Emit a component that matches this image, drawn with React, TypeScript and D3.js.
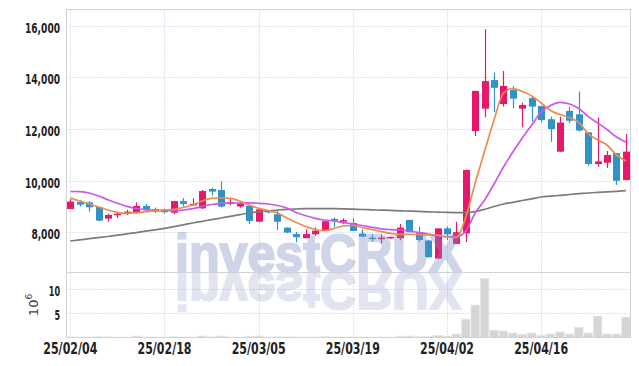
import React, { useEffect, useRef } from "react";
import * as d3 from "d3";

const WIDTH = 639;
const HEIGHT = 366;

const dates = [
  "25/02/04", "25/02/05", "25/02/06", "25/02/07", "25/02/10", "25/02/11", "25/02/12", "25/02/13", "25/02/14", "25/02/17",
  "25/02/18", "25/02/19", "25/02/20", "25/02/21", "25/02/24", "25/02/25", "25/02/26", "25/02/27", "25/02/28", "25/03/04",
  "25/03/05", "25/03/06", "25/03/07", "25/03/10", "25/03/11", "25/03/12", "25/03/13", "25/03/14", "25/03/17", "25/03/18",
  "25/03/19", "25/03/20", "25/03/21", "25/03/24", "25/03/25", "25/03/26", "25/03/27", "25/03/28", "25/03/31", "25/04/01",
  "25/04/02", "25/04/03", "25/04/04", "25/04/07", "25/04/08", "25/04/09", "25/04/10", "25/04/11", "25/04/14", "25/04/15",
  "25/04/16", "25/04/17", "25/04/18", "25/04/21", "25/04/22", "25/04/23", "25/04/24", "25/04/25", "25/04/28", "25/04/29",
];

const opens = [
  8890, 9165, 9150, 8970, 8520, 8650, 8730, 8750, 9010, 8890,
  8860, 8750, 9200, 9050, 8920, 9670, 9630, 9110, 8990, 9020,
  8400, 8820, 8690, 8170, 7920, 7760, 7910, 8050, 8510, 8400,
  8350, 7940, 7780, 7720, 7760, 7760, 8470, 8000, 7670, 6970,
  8140, 7540, 7950, 11920, 12790, 13900, 12970, 13520, 12790, 13200,
  12890, 12380, 11120, 12700, 12570, 11870, 10640, 10690, 11060, 10020,
];
const highs = [
  9280, 9240, 9200, 8980, 8710, 8770, 8860, 9150, 9090, 8950,
  8900, 9210, 9320, 9310, 9630, 9720, 9960, 9310, 9130, 9030,
  8930, 8850, 8820, 8180, 8010, 8100, 8180, 8430, 8570, 8530,
  8530, 8100, 7910, 7910, 7820, 8310, 8470, 8210, 7700, 8150,
  8210, 8400, 10420, 13480, 15870, 14190, 14250, 13670, 13020, 13260,
  12900, 12480, 12480, 12870, 13450, 11880, 12440, 11150, 11060, 11800,
];
const lows = [
  8890, 8990, 8790, 8430, 8400, 8550, 8660, 8710, 8800, 8740,
  8720, 8690, 8990, 9010, 8890, 9410, 8960, 9050, 8950, 8310,
  8400, 8720, 8080, 7950, 7600, 7760, 7850, 8040, 8200, 8310,
  8040, 7800, 7630, 7560, 7740, 7680, 7990, 7630, 7010, 6950,
  7690, 7540, 7610, 11730, 12460, 12650, 12870, 12800, 12070, 12290,
  12250, 11500, 11110, 12220, 11900, 10580, 10540, 10480, 9830, 10000,
];
const closes = [
  9180, 9060, 8960, 8440, 8660, 8710, 8790, 9010, 8880, 8790,
  8770, 9200, 9090, 9090, 9590, 9570, 8990, 9150, 9110, 8430,
  8880, 8770, 8400, 7980, 7800, 7920, 8050, 8420, 8440, 8460,
  8040, 7820, 7740, 7780, 7810, 8170, 7990, 7690, 7020, 8140,
  7910, 7990, 10410, 13480, 13860, 13600, 13670, 13180, 12930, 12870,
  12350, 12000, 12250, 12320, 11940, 10640, 10740, 10990, 9990, 11120,
];

// moving averages
const maShort = [
  9320, 9204, 9087, 8971, 8854, 8765, 8726, 8750, 8788, 8827,
  8854, 8882, 8951, 9049, 9204, 9309, 9320, 9309, 9204, 9049,
  8920, 8835, 8738, 8544, 8369, 8214, 8097, 8050, 8136, 8233,
  8252, 8175, 8097, 8019, 7950, 7911, 7911, 7903, 7884, 7884,
  7806, 7786, 8583, 9903, 11146, 12350, 13398, 13573, 13456, 13282,
  13010, 12718, 12563, 12447, 12252, 11825, 11573, 11379, 10990, 10757,
];
const maMid = [
  9573, 9565, 9515, 9398, 9250, 9115, 8998, 8913, 8866, 8835,
  8827, 8827, 8854, 8905, 8990, 9068, 9115, 9126, 9126, 9130,
  9115, 9087, 9029, 8932, 8757, 8629, 8532, 8466, 8427, 8361,
  8311, 8252, 8183, 8124, 8089, 8078, 8039, 7981, 7922, 7845,
  7817, 7817, 8039, 8738, 9243, 9864, 10524, 11107, 11650, 12155,
  12660, 12913, 13037, 12971, 12796, 12478, 12233, 11981, 11689, 11495,
];
const maLong = [
  7650, 7697, 7740, 7783, 7825, 7876, 7926, 7977, 8031, 8085,
  8144, 8210, 8280, 8350, 8416, 8482, 8544, 8610, 8676, 8738,
  8784, 8823, 8854, 8878, 8893, 8905, 8909, 8909, 8905, 8897,
  8885, 8874, 8862, 8850, 8839, 8823, 8812, 8800, 8784, 8773,
  8761, 8753, 8750, 8796, 8885, 8990, 9087, 9153, 9223, 9289,
  9359, 9390, 9425, 9456, 9487, 9514, 9538, 9561, 9580, 9604,
];

// volume in millions
const volumes = [
  0.1, 0.08, 0.08, 0.15, 0.1, 0.05, 0.05, 0.3, 0.1, 0.08,
  0.08, 0.15, 0.08, 0.06, 0.3, 0.1, 0.3, 0.08, 0.06, 0.25,
  0.3, 0.08, 0.15, 0.12, 0.1, 0.06, 0.06, 0.15, 0.1, 0.06,
  0.1, 0.08, 0.06, 0.08, 0.05, 0.25, 0.3, 0.15, 0.2, 0.45,
  0.3, 0.7, 3.8, 6.7, 12.2, 1.5, 1.35, 0.93, 0.66, 0.93,
  0.45, 0.72, 1.14, 0.72, 2.1, 0.93, 4.4, 0.72, 0.72, 4.2,
];

const priceTicks = [8000, 10000, 12000, 14000, 16000];
const volumeTicks = [5, 10];
const dateTicks = ["25/02/04", "25/02/18", "25/03/05", "25/03/19", "25/04/02", "25/04/16"];

const UP = "#e5186c";
const DOWN = "#2f93c8";
const GRID = "#c2c5da";
const FRAME = "#d2d2d6";
const LABEL_FONT = "'DejaVu Sans Condensed', 'DejaVu Sans', sans-serif";
const MARK = "rgb(125,140,194)";

// width of a narrow-font label, so the labels keep the reference's width
const labelWidth = (s: string, digit: number) =>
  s.split("").reduce((w, ch) => w + (ch === "," ? 3 : ch === "/" ? 6 : digit), 0);

function App() {
  const svgRef = useRef<SVGSVGElement>(null);

  useEffect(() => {
    const svg = d3.select(svgRef.current);
    svg.selectAll("*").remove();

    const left = 66.5;
    const right = 630.5;
    const top = 9.5;
    const mainBottom = 272;
    const volBottom = 337.5;

    const x = d3.scaleBand().domain(dates).range([65.6, 630.6]);
    const cx = (d: string) => (x(d) as number) + x.bandwidth() / 2;
    const y = d3.scaleLinear().domain([6447, 16660]).range([mainBottom, 9]);
    const yv = d3.scaleLinear().domain([0, 13.55]).range([volBottom, mainBottom]);

    svg.append("rect").attr("width", WIDTH).attr("height", HEIGHT).attr("fill", "#fff");

    // grid
    const grid = svg.append("g").attr("stroke", GRID).attr("stroke-dasharray", "1,2");
    grid.selectAll(".hg")
      .data(priceTicks)
      .enter()
      .append("line")
      .attr("x1", left).attr("x2", right)
      .attr("y1", d => Math.round(y(d)) + 0.5)
      .attr("y2", d => Math.round(y(d)) + 0.5);
    grid.selectAll(".vg")
      .data(volumeTicks)
      .enter()
      .append("line")
      .attr("x1", left).attr("x2", right)
      .attr("y1", d => Math.round(yv(d)) + 0.5)
      .attr("y2", d => Math.round(yv(d)) + 0.5);
    grid.selectAll(".xg")
      .data(dateTicks)
      .enter()
      .append("line")
      .attr("x1", d => Math.round(cx(d)) + 0.5)
      .attr("x2", d => Math.round(cx(d)) + 0.5)
      .attr("y1", top).attr("y2", volBottom);

    // watermark reflection in the volume panel
    svg.append("defs").append("clipPath").attr("id", "volclip")
      .append("rect").attr("x", left).attr("y", mainBottom).attr("width", right - left).attr("height", volBottom - mainBottom);
    svg.append("g")
      .attr("clip-path", "url(#volclip)")
      .append("text")
      .attr("transform", `translate(0, ${mainBottom * 2}) scale(1, -1)`)
      .attr("x", 175).attr("y", mainBottom)
      .attr("textLength", 287).attr("lengthAdjust", "spacingAndGlyphs")
      .attr("font-family", "'Liberation Sans', Arial, sans-serif")
      .attr("font-weight", "bold").attr("font-size", 53)
      .attr("fill", MARK).attr("stroke", MARK).attr("stroke-width", 2)
      .attr("opacity", 0.22)
      .text("investCRUX");

    // volume bars
    svg.append("g")
      .selectAll("rect")
      .data(dates)
      .enter()
      .append("rect")
      .attr("x", d => (x(d) as number) + 0.5)
      .attr("width", x.bandwidth() - 1)
      .attr("y", (d, i) => yv(volumes[i]))
      .attr("height", (d, i) => volBottom - yv(volumes[i]))
      .attr("fill", "#d5d5d5")
      .attr("stroke", "#e6e6e6")
      .attr("stroke-width", 0.8);

    // candles
    const candles = svg.append("g");
    const bodyW = 7;
    dates.forEach((d, i) => {
      const up = closes[i] >= opens[i];
      const color = up ? UP : DOWN;
      const c = Math.round(cx(d)) + 0.5;
      candles.append("line")
        .attr("x1", c).attr("x2", c)
        .attr("y1", y(highs[i])).attr("y2", y(lows[i]))
        .attr("stroke", color).attr("stroke-width", 1.2);
      const yTop = y(Math.max(opens[i], closes[i]));
      const yBot = y(Math.min(opens[i], closes[i]));
      candles.append("rect")
        .attr("x", c - bodyW / 2)
        .attr("width", bodyW)
        .attr("y", yTop)
        .attr("height", Math.max(1.5, yBot - yTop))
        .attr("fill", color);
    });

    // watermark
    svg.append("text")
      .attr("x", 175).attr("y", mainBottom)
      .attr("textLength", 287).attr("lengthAdjust", "spacingAndGlyphs")
      .attr("font-family", "'Liberation Sans', Arial, sans-serif")
      .attr("font-weight", "bold").attr("font-size", 53)
      .attr("fill", MARK).attr("stroke", MARK).attr("stroke-width", 2)
      .attr("opacity", 0.36)
      .text("investCRUX");

    // moving averages
    const line = d3.line<number>()
      .x((d, i) => cx(dates[i]))
      .y(d => y(d))
      .curve(d3.curveMonotoneX);
    const series: [number[], string][] = [
      [maLong, "#7c7c7c"],
      [maMid, "#c95ae8"],
      [maShort, "#ef8a50"],
    ];
    series.forEach(([vals, color]) => {
      svg.append("path")
        .attr("d", line(vals))
        .attr("fill", "none")
        .attr("stroke", color)
        .attr("stroke-width", 1.7);
    });

    // frame
    const frame = svg.append("g").attr("stroke", FRAME).attr("fill", "none");
    frame.append("rect").attr("x", left).attr("y", top).attr("width", right - left).attr("height", volBottom - top);
    frame.append("line").attr("x1", left).attr("x2", right).attr("y1", mainBottom + 0.5).attr("y2", mainBottom + 0.5);

    // axis labels
    const labels = svg.append("g")
      .attr("font-family", LABEL_FONT)
      .attr("font-weight", "bold")
      .attr("font-size", 14.5)
      .attr("fill", "#222");
    labels.selectAll(".py")
      .data(priceTicks)
      .enter()
      .append("text")
      .attr("x", 60)
      .attr("y", d => y(d) + 7)
      .attr("text-anchor", "end")
      .attr("textLength", d => labelWidth(d3.format(",")(d), 6.4))
      .attr("lengthAdjust", "spacingAndGlyphs")
      .text(d => d3.format(",")(d));
    labels.selectAll(".vy")
      .data(volumeTicks)
      .enter()
      .append("text")
      .attr("x", 60)
      .attr("y", d => yv(d) + 7)
      .attr("text-anchor", "end")
      .attr("textLength", d => labelWidth(String(d), 5.6))
      .attr("lengthAdjust", "spacingAndGlyphs")
      .text(d => String(d));
    labels.selectAll(".dx")
      .data(dateTicks)
      .enter()
      .append("text")
      .attr("x", d => cx(d))
      .attr("y", 354)
      .attr("text-anchor", "middle")
      .attr("font-size", 15.5)
      .attr("textLength", d => labelWidth(d, 7))
      .attr("lengthAdjust", "spacingAndGlyphs")
      .text(d => d);

    // volume unit
    const unit = svg.append("text")
      .attr("transform", "translate(38, 305) rotate(-90)")
      .attr("text-anchor", "middle")
      .attr("font-family", "'DejaVu Sans', sans-serif")
      .attr("font-size", 13)
      .attr("fill", "#444");
    unit.append("tspan").text("10");
    unit.append("tspan").attr("dy", -6).attr("font-size", 9).text("6");
  }, []);

  return (
    <div style={{ position: "absolute", left: 0, top: 0 }}>
      <svg ref={svgRef} width={WIDTH} height={HEIGHT} style={{ display: "block" }}></svg>
    </div>
  );
}

export default App;
